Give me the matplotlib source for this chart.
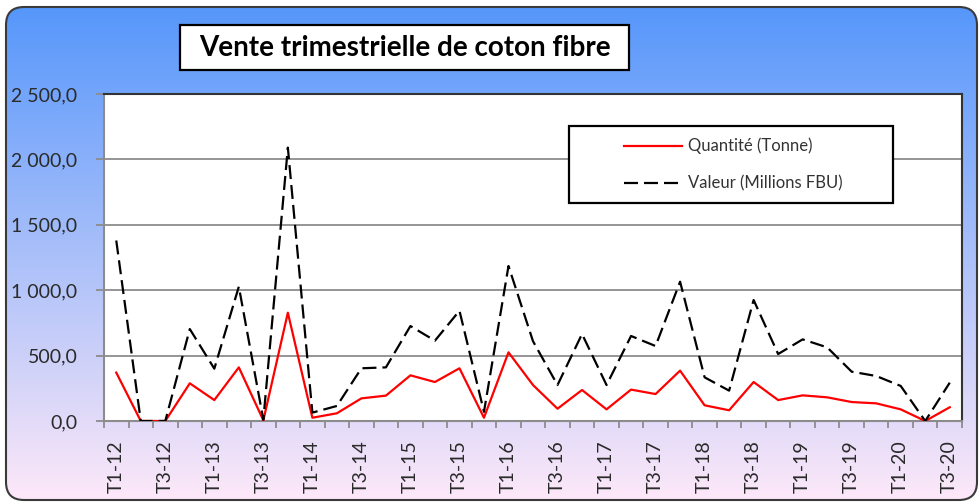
import numpy as np
import matplotlib
matplotlib.use("Agg")
import matplotlib.pyplot as plt
from matplotlib.patches import FancyBboxPatch, Rectangle
from matplotlib.lines import Line2D
from matplotlib.ticker import FuncFormatter, FixedLocator

plt.rcParams['font.family'] = ['Lato', 'DejaVu Sans']

# ---- data ----
quarters = [f"T{q}-{y}" for y in range(12, 21) for q in (1, 2, 3, 4)][:35]
quantite = [370, 0, 0, 288, 160, 410, 5, 828, 25, 59, 173, 194, 349, 298, 403, 25,
            525, 275, 94, 237, 89, 240, 206, 385, 120, 82, 298, 160, 196, 181, 145, 135,
            89, 0, 105]
valeur = [1380, 0, 0, 703, 400, 1027, 10, 2090, 64, 115, 403, 410, 726, 614, 843, 70,
          1185, 610, 275, 665, 275, 650, 573, 1065, 334, 232, 925, 512, 624, 563, 377, 344,
          268, 0, 293]
label_quantite = "Quantité (Tonne)"
label_valeur = "Valeur (Millions FBU)"
title = "Vente trimestrielle de coton fibre"

W, H = 980, 504
fig = plt.figure(figsize=(W / 100, H / 100), dpi=100, facecolor='white')

# ---- background with rounded border ----
bg = fig.add_axes([0, 0, 1, 1], zorder=0)
bg.set_xlim(0, W)
bg.set_ylim(H, 0)
bg.axis('off')
top_c = np.array([0x56, 0x97, 0xfb]) / 255
bot_c = np.array([0xfd, 0xe8, 0xf8]) / 255
t = np.linspace(0, 1, 256)[:, None, None]
grad = top_c[None, None, :] * (1 - t) + bot_c[None, None, :] * t
box = FancyBboxPatch((6, 7), 971, 493, boxstyle="round,pad=0,rounding_size=18",
                     fc='none', ec='#3a3a3a', lw=1.5, zorder=3)
bg.add_patch(box)
im = bg.imshow(grad, extent=(6, 977, 500, 7), aspect='auto', zorder=1)
im.set_clip_path(box)

# ---- main axes ----
L, R, T, B = 104, 962, 94, 421
ax = fig.add_axes([L / W, 1 - B / H, (R - L) / W, (B - T) / H], zorder=1)
ax.set_facecolor('white')
x = np.arange(len(quarters))
ax.plot(x, quantite, color='#ff0000', lw=1.6, zorder=3)
ax.plot(x, valeur, color='black', lw=1.6, dashes=(6.3, 2.7), zorder=3)

ax.set_xlim(-0.5, len(quarters) - 0.5)
ax.set_ylim(0, 2500)
ax.set_yticks(np.arange(0, 2501, 500))
ax.yaxis.set_major_formatter(FuncFormatter(
    lambda v, p: f"{v:,.1f}".replace(',', ' ').replace('.', ',')))
ax.grid(axis='y', color='#8c8c8c', lw=1.3)
ax.set_axisbelow(True)

ax.xaxis.set_major_locator(FixedLocator(np.arange(-0.5, len(quarters), 1.0)))
ax.xaxis.set_major_formatter(FuncFormatter(lambda v, p: ""))
ax.xaxis.set_minor_locator(FixedLocator(x[::2]))
ax.set_xticklabels([quarters[i] for i in x[::2]], minor=True, rotation=90)
ax.tick_params(axis='x', which='minor', length=0, pad=14, labelsize=14, labelcolor='#2a2a2a')
ax.tick_params(axis='x', which='major', length=5, width=1.3, color='#8c8c8c', direction='out')
ax.tick_params(axis='y', length=6, width=1.3, color='#8c8c8c', direction='out',
               labelsize=14, labelcolor='#2a2a2a', pad=13)

for s in ('left', 'bottom'):
    ax.spines[s].set_color('#8c8c8c')
    ax.spines[s].set_linewidth(1.5)
for s in ('top', 'right'):
    ax.spines[s].set_color('#333333')
    ax.spines[s].set_linewidth(1.5)

# ---- overlay: title and legend ----
ov = fig.add_axes([0, 0, 1, 1], zorder=3)
ov.set_xlim(0, W)
ov.set_ylim(H, 0)
ov.axis('off')

ov.add_patch(Rectangle((180, 25), 449, 45, fc='white', ec='black', lw=1.6))
ov.text(404.5, 48, title, ha='center', va='center', fontsize=20, fontweight='bold',
        color='black')

ov.add_patch(Rectangle((569, 126), 324, 77, fc='white', ec='black', lw=1.6))
ov.add_line(Line2D([624, 682], [146, 146], color='#ff0000', lw=1.6))
ov.add_line(Line2D([624, 682], [183, 183], color='black', lw=1.6, dashes=(6.3, 2.7)))
ov.text(688, 146, label_quantite, ha='left', va='center', fontsize=12, color='#333333')
ov.text(688, 183, label_valeur, ha='left', va='center', fontsize=12, color='#333333')

fig.savefig("out.png", dpi=100, facecolor='white')
